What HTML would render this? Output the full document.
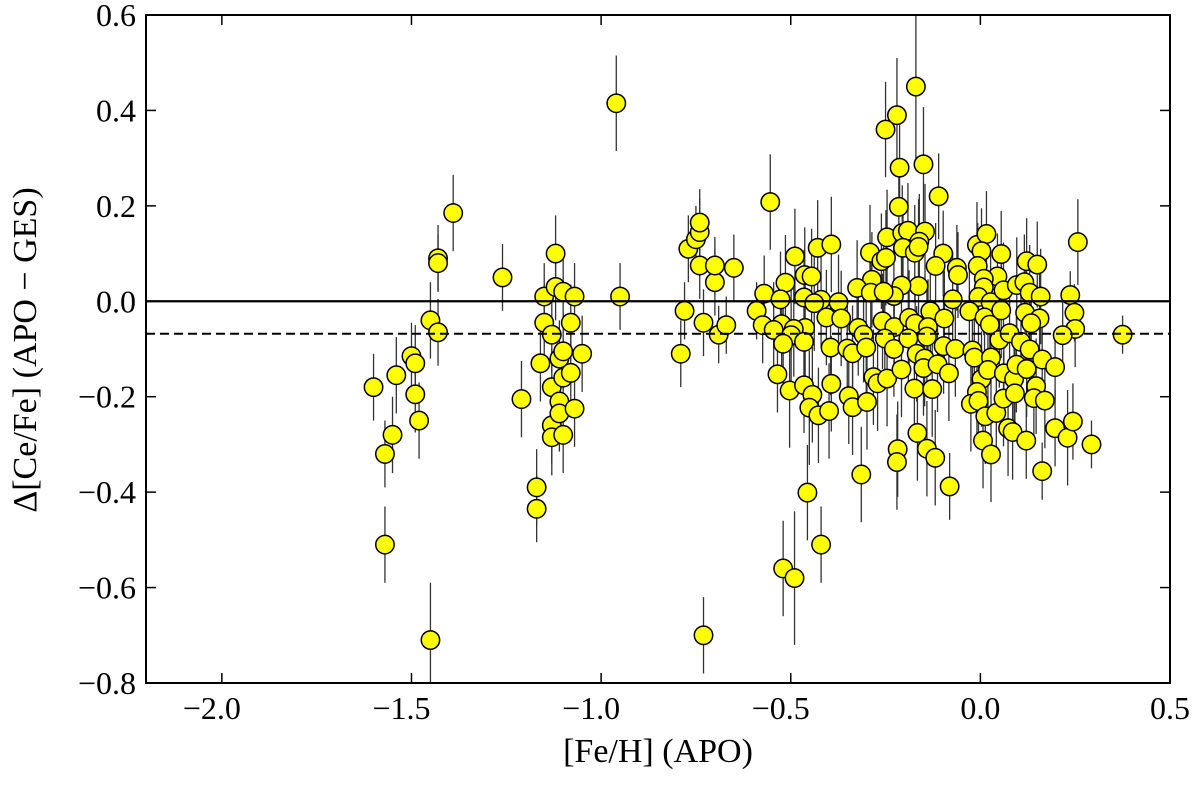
<!DOCTYPE html>
<html><head><meta charset="utf-8"><style>
body{margin:0;background:#fff}
svg text{font-family:"Liberation Serif",serif;fill:#000}
</style></head><body>
<svg id="chart" width="1200" height="781" viewBox="0 0 1200 781">
<g id="bars"></g>
<g id="pts"></g>
<g id="axes"></g>
</svg>
<script>
const xTicks=[-2.0,-1.5,-1.0,-0.5,0.0,0.5];
const xTickLabels=["\u22122.0","\u22121.5","\u22121.0","\u22120.5","0.0","0.5"];
const yTicks=[0.6,0.4,0.2,0.0,-0.2,-0.4,-0.6,-0.8];
const yTickLabels=["0.6","0.4","0.2","0.0","\u22120.2","\u22120.4","\u22120.6","\u22120.8"];
const meanOffset=-0.068;
const points=[
[-1.60,-0.18,0.07],[-1.57,-0.32,0.07],[-1.57,-0.51,0.08],[-1.55,-0.28,0.08],[-1.54,-0.155,0.08],[-1.50,-0.115,0.07],[-1.49,-0.13,0.08],[-1.49,-0.195,0.08],[-1.48,-0.25,0.08],[-1.45,-0.04,0.08],[-1.45,-0.71,0.12],[-1.43,0.09,0.07],[-1.43,0.08,0.06],[-1.43,-0.065,0.07],[-1.39,0.185,0.08],[-1.26,0.05,0.07],[-1.21,-0.205,0.08],[-1.17,-0.39,0.08],[-1.17,-0.435,0.07],[-1.16,-0.13,0.08],[-1.15,-0.045,0.08],[-1.15,0.01,0.07],[-1.13,-0.07,0.08],[-1.13,-0.18,0.08],[-1.13,-0.26,0.08],[-1.13,-0.285,0.08],[-1.12,0.10,0.08],[-1.12,0.03,0.07],[-1.11,-0.21,0.08],[-1.11,-0.235,0.08],[-1.11,-0.12,0.08],[-1.10,-0.105,0.08],[-1.10,0.02,0.07],[-1.10,-0.16,0.08],[-1.10,-0.28,0.08],[-1.08,-0.045,0.08],[-1.08,-0.15,0.08],[-1.07,-0.225,0.08],[-1.07,0.01,0.07],[-1.05,-0.11,0.08],[-0.96,0.415,0.1],[-0.95,0.01,0.07],
[-0.79,-0.11,0.07],[-0.78,-0.02,0.06],[-0.77,0.11,0.07],[-0.75,0.13,0.07],[-0.74,0.145,0.07],[-0.74,0.165,0.07],[-0.74,0.075,0.07],[-0.73,-0.045,0.07],[-0.73,-0.70,0.08],[-0.70,0.04,0.07],[-0.70,0.075,0.06],[-0.69,-0.07,0.06],[-0.67,-0.05,0.06],[-0.65,0.07,0.07],[-0.59,-0.02,0.06],[-0.52,-0.56,0.1],[-0.49,-0.58,0.14],[-0.42,-0.51,0.08],[-0.17,0.45,0.15],[-0.22,0.39,0.12],[-0.25,0.36,0.1],
[-0.554,0.208,0.1],[-0.213,0.280,0.1],[-0.150,0.287,0.12],[-0.110,0.220,0.09],[-0.215,0.198,0.1],[0.257,0.124,0.09],[-0.246,0.134,0.1],[-0.206,0.143,0.1],[-0.191,0.148,0.1],[-0.146,0.146,0.1],[-0.204,0.112,0.1],[-0.173,0.102,0.1],[-0.161,0.125,0.1],[-0.163,0.114,0.1],[-0.429,0.112,0.1],[-0.393,0.119,0.1],[-0.489,0.094,0.1],[-0.291,0.102,0.1],[-0.261,0.084,0.1],[-0.249,0.091,0.1],[-0.098,0.100,0.09],[-0.118,0.074,0.09],[-0.062,0.070,0.09],[-0.059,0.055,0.09],[-0.009,0.118,0.09],[0.016,0.141,0.09],[0.003,0.105,0.09],[0.055,0.099,0.09],[-0.007,0.074,0.09],[0.045,0.052,0.09],[0.122,0.084,0.09],[0.150,0.077,0.09],[-0.463,0.055,0.1],[-0.445,0.052,0.1],[-0.514,0.039,0.1],[-0.286,0.045,0.1],[-0.325,0.028,0.1],[-0.163,0.032,0.1],[-0.208,0.033,0.1],[-0.228,0.011,0.1],[-0.570,0.016,0.08],[-0.527,0.004,0.1],[-0.465,0.008,0.1],[-0.420,0.003,0.1],[-0.374,-0.002,0.1],[-0.438,-0.004,0.1],[-0.289,0.018,0.1],[-0.255,0.020,0.1],[-0.073,0.004,0.1],[0.009,0.047,0.1],[0.009,0.029,0.1],[-0.005,0.009,0.1],[0.027,-0.002,0.1],[0.061,0.023,0.1],[0.096,0.034,0.1],[0.116,0.040,0.1],[0.130,0.018,0.1],[0.159,0.010,0.1],[0.237,0.013,0.05],[0.248,-0.024,0.06],[0.250,-0.058,0.08],[0.217,-0.071,0.07],[0.375,-0.070,0.04],
[-0.574,-0.050,0.08],[-0.524,-0.048,0.1],[-0.462,-0.056,0.1],[-0.492,-0.058,0.1],[-0.406,-0.034,0.1],[-0.367,-0.036,0.1],[-0.322,-0.056,0.1],[-0.308,-0.070,0.1],[-0.258,-0.042,0.1],[-0.227,-0.054,0.1],[-0.188,-0.035,0.1],[-0.172,-0.047,0.1],[-0.132,-0.021,0.1],[-0.138,-0.054,0.1],[-0.095,-0.036,0.1],[-0.029,-0.021,0.1],[0.011,-0.034,0.1],[0.025,-0.049,0.1],[0.055,-0.019,0.1],[0.118,-0.024,0.1],[0.156,-0.036,0.1],[0.134,-0.046,0.1],[-0.545,-0.060,0.1],[-0.499,-0.071,0.1],[-0.465,-0.085,0.1],[-0.520,-0.089,0.1],[-0.395,-0.097,0.1],[-0.351,-0.099,0.1],[-0.337,-0.109,0.1],[-0.301,-0.097,0.1],[-0.252,-0.078,0.1],[-0.228,-0.100,0.1],[-0.190,-0.078,0.1],[-0.168,-0.110,0.1],[-0.147,-0.120,0.1],[-0.141,-0.074,0.1],[-0.097,-0.094,0.1],[-0.066,-0.100,0.1],[-0.021,-0.103,0.1],[-0.016,-0.118,0.1],[0.028,-0.118,0.1],[0.050,-0.081,0.1],[0.077,-0.067,0.1],[0.107,-0.085,0.1],[0.130,-0.101,0.1],[0.163,-0.122,0.1],[0.197,-0.138,0.07],
[-0.535,-0.153,0.08],[-0.503,-0.187,0.12],[-0.465,-0.176,0.1],[-0.443,-0.196,0.1],[-0.451,-0.223,0.12],[-0.427,-0.239,0.1],[-0.393,-0.173,0.1],[-0.399,-0.230,0.1],[-0.347,-0.199,0.1],[-0.337,-0.222,0.1],[-0.299,-0.211,0.1],[-0.282,-0.159,0.1],[-0.271,-0.172,0.1],[-0.246,-0.162,0.1],[-0.208,-0.143,0.1],[-0.174,-0.183,0.1],[-0.150,-0.140,0.1],[-0.127,-0.184,0.1],[-0.113,-0.132,0.1],[-0.083,-0.151,0.1],[0.003,-0.163,0.1],[0.020,-0.144,0.1],[0.062,-0.151,0.1],[0.089,-0.163,0.1],[0.095,-0.133,0.1],[0.122,-0.142,0.1],[0.147,-0.178,0.1],[0.141,-0.203,0.1],[0.170,-0.208,0.1],[-0.009,-0.190,0.1],[-0.025,-0.215,0.1],[-0.005,-0.209,0.1],[0.013,-0.241,0.1],[0.042,-0.234,0.1],[0.061,-0.204,0.1],[0.091,-0.193,0.1],[0.073,-0.266,0.1],[0.085,-0.274,0.1],[0.121,-0.292,0.08],[0.197,-0.266,0.08],[0.230,-0.286,0.1],[0.244,-0.252,0.08],[0.293,-0.300,0.05],[-0.166,-0.276,0.1],[-0.218,-0.310,0.1],[-0.220,-0.337,0.1],[-0.141,-0.309,0.1],[-0.119,-0.328,0.1],[0.007,-0.292,0.1],[0.028,-0.321,0.1],[0.163,-0.356,0.06],[-0.314,-0.363,0.1],[-0.081,-0.388,0.07],[-0.456,-0.401,0.1]
];
const L=146,R=1170,T=15,B=683,X0=-2.2,X1=0.5,Y0=-0.8,Y1=0.6;
function sx(v){return L+(v-X0)/(X1-X0)*(R-L);}
function sy(v){return B-(v-Y0)/(Y1-Y0)*(B-T);}
const NS="http://www.w3.org/2000/svg";
function mk(t,a,p){const e=document.createElementNS(NS,t);for(const k in a)e.setAttribute(k,a[k]);p.appendChild(e);return e;}
const bars=document.getElementById('bars'),pts=document.getElementById('pts'),axes=document.getElementById('axes');
let zl=mk('line',{x1:L,x2:R,y1:sy(0),y2:sy(0),stroke:'#000','stroke-width':2.2},axes);


let ml=mk('line',{x1:L,x2:R,y1:sy(meanOffset),y2:sy(meanOffset),stroke:'#000','stroke-width':2,'stroke-dasharray':'9,5'},axes);


points.forEach(p=>{
 const x=sx(p[0]);
 const b=mk('line',{x1:x,x2:x,y1:Math.max(T,sy(p[1]+p[2])),y2:Math.min(B,sy(p[1]-p[2])),stroke:'#333','stroke-width':1.3},bars);
 
 
});
points.forEach(p=>{
 const c=mk('circle',{cx:sx(p[0]),cy:sy(p[1]),r:9.2,fill:'#ffff00',stroke:'#000','stroke-width':1.5},pts);
 
 
});
let fr=mk('rect',{x:L,y:T,width:R-L,height:B-T,fill:'none',stroke:'#000','stroke-width':2},axes);


xTicks.forEach((v,i)=>{
 const x=sx(v);
 mk('line',{x1:x,x2:x,y1:B,y2:B-10,stroke:'#000','stroke-width':1.5},axes);
 mk('line',{x1:x,x2:x,y1:T,y2:T+10,stroke:'#000','stroke-width':1.5},axes);
 const t=mk('text',{x:x+(v<0?-10:0),y:B+36,'text-anchor':'middle','font-size':32},axes);
 t.textContent=xTickLabels[i];
 
 
});
yTicks.forEach((v,i)=>{
 const y=sy(v);
 mk('line',{x1:L,x2:L+10,y1:y,y2:y,stroke:'#000','stroke-width':1.5},axes);
 mk('line',{x1:R,x2:R-10,y1:y,y2:y,stroke:'#000','stroke-width':1.5},axes);
 const t=mk('text',{x:L-10,y:y+11,'text-anchor':'end','font-size':32},axes);
 t.textContent=yTickLabels[i];
 
 
});
let xt=mk('text',{x:658,y:762,'text-anchor':'middle','font-size':34},axes);
xt.textContent='[Fe/H] (APO)';


let yt=mk('text',{x:0,y:0,'text-anchor':'middle','font-size':34,transform:'translate(36,350) rotate(-90)'},axes);
yt.textContent='\u0394[Ce/Fe] (APO \u2212 GES)';


</script>
</body></html>
